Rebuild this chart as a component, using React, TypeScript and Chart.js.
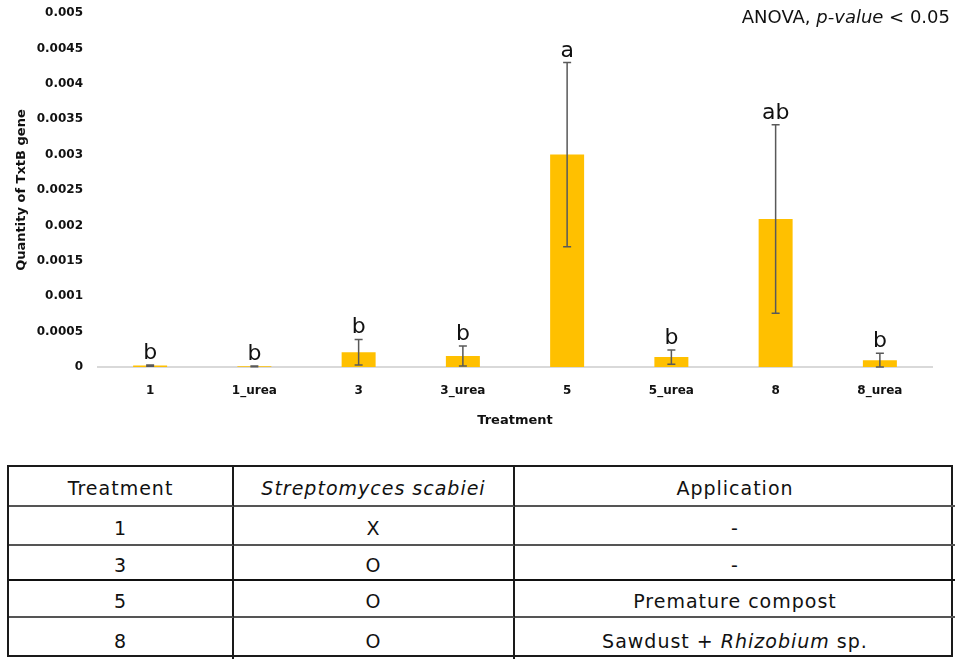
import React, { useEffect, useRef } from "react";
import { Chart, registerables } from "chart.js";

Chart.register(...registerables);

const categories = ["1", "1_urea", "3", "3_urea", "5", "5_urea", "8", "8_urea"];
const means = [0.00002, 0.00001, 0.00021, 0.000155, 0.003, 0.00014, 0.00209, 0.000095];
const errors = [0.00001, 0.000005, 0.00018, 0.00014, 0.0013, 0.0001, 0.00133, 0.0001];
const letters = ["b", "b", "b", "b", "a", "b", "ab", "b"];
const yTicks = [0, 0.0005, 0.001, 0.0015, 0.002, 0.0025, 0.003, 0.0035, 0.004, 0.0045, 0.005];

const tableHeader = ["Treatment", "Streptomyces scabiei", "Application"];
const tableTreatments = ["1", "3", "5", "8"];
const tableScabiei = ["X", "O", "O", "O"];
const tableApplication: { t: string; i?: boolean }[][] = [
  [{ t: "-" }],
  [{ t: "-" }],
  [{ t: "Premature compost" }],
  [{ t: "Sawdust + " }, { t: "Rhizobium", i: true }, { t: " sp." }],
];

const FONT = "'DejaVu Sans', 'Noto Sans', sans-serif";

const errorBarPlugin = {
  id: "errorBars",
  afterDatasetsDraw(chart: any) {
    const ctx = chart.ctx;
    const meta = chart.getDatasetMeta(0);
    const y = chart.scales.y;
    ctx.save();
    ctx.strokeStyle = "#595959";
    ctx.lineWidth = 1.5;
    meta.data.forEach((bar: any, i: number) => {
      const x = bar.x;
      const top = y.getPixelForValue(means[i] + errors[i]);
      const bot = y.getPixelForValue(Math.max(means[i] - errors[i], 0));
      ctx.beginPath();
      ctx.moveTo(x, top);
      ctx.lineTo(x, bot);
      ctx.moveTo(x - 4, top);
      ctx.lineTo(x + 4, top);
      ctx.moveTo(x - 4, bot);
      ctx.lineTo(x + 4, bot);
      ctx.stroke();
      ctx.fillStyle = "#111";
      ctx.font = `22px ${FONT}`;
      ctx.textAlign = "center";
      ctx.textBaseline = "alphabetic";
      ctx.fillText(letters[i], x, top - 6);
    });
    // ANOVA annotation
    ctx.textBaseline = "middle";
    ctx.textAlign = "left";
    ctx.fillStyle = "#111";
    const parts = [
      { t: "ANOVA, ", f: `18px ${FONT}` },
      { t: "p-value", f: `italic 18px ${FONT}` },
      { t: " < 0.05", f: `18px ${FONT}` },
    ];
    let total = 0;
    parts.forEach((p) => {
      ctx.font = p.f;
      total += ctx.measureText(p.t).width;
    });
    let xx = 950 - total;
    parts.forEach((p) => {
      ctx.font = p.f;
      ctx.fillText(p.t, xx, 18);
      xx += ctx.measureText(p.t).width;
    });
    ctx.restore();
  },
};

function ChartBox() {
  const ref = useRef<HTMLCanvasElement | null>(null);
  useEffect(() => {
    if (!ref.current) return;
    const chart = new Chart(ref.current, {
      type: "bar",
      data: {
        labels: categories,
        datasets: [
          {
            data: means,
            backgroundColor: "#FFC000",
            barPercentage: 0.326,
            categoryPercentage: 1,
          },
        ],
      },
      options: {
        animation: false,
        responsive: false,
        maintainAspectRatio: false,
        layout: { padding: { top: 13, right: 28, left: 0, bottom: 0 } },
        plugins: { legend: { display: false }, tooltip: { enabled: false } },
        scales: {
          x: {
            grid: { display: false, drawTicks: false },
            border: { display: true, color: "#d9d9d9", width: 2 },
            ticks: {
              padding: 17,
              color: "#111",
              font: { family: FONT, size: 12, weight: "bold" },
            },
            title: {
              display: true,
              text: "Treatment",
              color: "#111",
              font: { family: FONT, size: 13, weight: "bold" },
              padding: { top: 0, bottom: 12 },
            },
            afterFit(scale: any) {
              scale.height = 73;
            },
          },
          y: {
            min: 0,
            max: 0.005,
            afterBuildTicks(scale: any) {
              scale.ticks = yTicks.map((v) => ({ value: v }));
            },
            grid: { display: false, drawTicks: false },
            border: { display: false },
            ticks: {
              padding: 15,
              color: "#111",
              font: { family: FONT, size: 12, weight: "bold" },
              callback: (v: any) => String(v),
            },
            title: {
              display: true,
              text: "Quantity of TxtB gene",
              color: "#111",
              font: { family: FONT, size: 13, weight: "bold" },
              padding: { top: 14, bottom: 0 },
            },
            afterFit(scale: any) {
              scale.width = 98;
              scale.paddingTop = 7;
              scale.paddingBottom = 7;
            },
          },
        },
      },
      plugins: [errorBarPlugin],
    } as any);
    return () => chart.destroy();
  }, []);
  return (
    <canvas
      ref={ref}
      width={960}
      height={440}
      style={{ position: "absolute", left: 0, top: 0, width: 960, height: 440 }}
    />
  );
}

const rowHeights = [40, 39, 35, 37, 41];
const colWidths = [225, 281, 440];

function Cell({ r, c, children }: { r: number; c: number; children: React.ReactNode }) {
  return (
    <div
      style={{
        display: "flex",
        alignItems: "center",
        justifyContent: "center",
        borderRight: c < 2 ? "2px solid #1a1a1a" : "none",
        borderBottom: r < 4 ? (r === 2 ? "2.5px solid #111" : "2px solid #555") : "none",
        boxSizing: "border-box",
        paddingTop: 4,
        whiteSpace: "nowrap",
      }}
    >
      {children}
    </div>
  );
}

export default function App() {
  const cells: React.ReactNode[] = [];
  tableHeader.forEach((h, c) => {
    cells.push(
      <Cell key={`h${c}`} r={0} c={c}>
        {c === 1 ? <i>{h}</i> : h}
      </Cell>
    );
  });
  tableTreatments.forEach((t, i) => {
    cells.push(
      <Cell key={`a${i}`} r={i + 1} c={0}>
        {t}
      </Cell>
    );
    cells.push(
      <Cell key={`b${i}`} r={i + 1} c={1}>
        {tableScabiei[i]}
      </Cell>
    );
    cells.push(
      <Cell key={`c${i}`} r={i + 1} c={2}>
        {tableApplication[i].map((s, k) =>
          s.i ? <i key={k}>{s.t}</i> : <span key={k} style={{ whiteSpace: "pre" }}>{s.t}</span>
        )}
      </Cell>
    );
  });
  return (
    <div
      style={{
        position: "fixed",
        left: 0,
        top: 0,
        width: 960,
        height: 664,
        background: "#fff",
        overflow: "hidden",
      }}
    >
      <ChartBox />
      <div
        style={{
          position: "absolute",
          left: 7,
          top: 465,
          width: 946,
          height: 192,
          border: "2px solid #1a1a1a",
          boxSizing: "border-box",
          display: "grid",
          gridTemplateColumns: colWidths.map((w) => `${w}px`).join(" "),
          gridTemplateRows: rowHeights.map((h) => `${h}px`).join(" "),
          fontFamily: FONT,
          fontSize: 19,
          letterSpacing: 1,
          color: "#111",
        }}
      >
        {cells}
      </div>
    </div>
  );
}
